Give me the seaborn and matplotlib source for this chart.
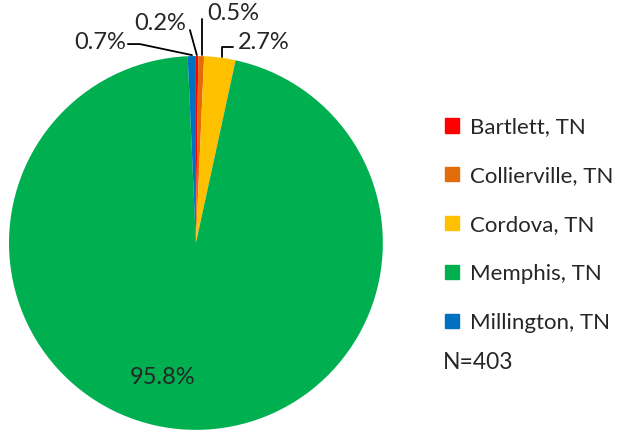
import matplotlib
matplotlib.use("Agg")
import matplotlib.pyplot as plt
import matplotlib.patches as mpatches
import seaborn as sns

cities = ["Bartlett, TN", "Collierville, TN", "Cordova, TN", "Memphis, TN", "Millington, TN"]
shares = [0.2, 0.5, 2.7, 95.8, 0.7]
colors = ["#FF0000", "#E36C0A", "#FFC000", "#00B050", "#0070C0"]
n_total = 403

sns.set_style("white")
plt.rcParams["font.family"] = ["Lato", "DejaVu Sans"]

fig = plt.figure(figsize=(6.21, 4.32), dpi=100)
ax = fig.add_axes([0.0145, 0.0046, 0.602, 0.866])

wedges, _ = ax.pie(shares, colors=colors, startangle=90, counterclock=False,
                   radius=1.0, wedgeprops=dict(linewidth=0))
ax.set_xlim(-1, 1)
ax.set_ylim(-1, 1)
ax.set_aspect("equal")
ax.axis("off")

# percentage labels (data coordinates, radius = 1)
fs = 17
ax.text(-0.18, -0.722, f"{shares[3]:.1f}%", fontsize=fs, ha="center", va="center")
ax.text(-0.372, 1.075, f"{shares[4]:.1f}%", fontsize=fs, ha="right", va="center")
ax.text(-0.05, 1.176, f"{shares[0]:.1f}%", fontsize=fs, ha="right", va="center")
ax.text(0.059, 1.23, f"{shares[1]:.1f}%", fontsize=fs, ha="left", va="center")
ax.text(0.225, 1.075, f"{shares[2]:.1f}%", fontsize=fs, ha="left", va="center")

lk = dict(color="black", lw=1.3, clip_on=False)
ax.plot([-0.364, -0.30, -0.021], [1.064, 1.064, 1.005], **lk)
ax.plot([-0.032, 0.005], [1.139, 1.005], **lk)
ax.plot([0.032, 0.032], [1.005, 1.198], **lk)
ax.plot([0.139, 0.139, 0.198], [0.995, 1.048, 1.048], **lk)

handles = [mpatches.Patch(color=c, label=l) for c, l in zip(colors, cities)]
fig.legend(handles=handles, loc="upper left", bbox_to_anchor=(0.7166, 0.729),
           frameon=False, fontsize=16, borderpad=0, borderaxespad=0,
           handlelength=0.63, handleheight=0.63,
           handletextpad=0.5, labelspacing=1.3)
fig.text(0.713, 0.16, f"N={n_total}", fontsize=16.5, ha="left", va="center")

fig.savefig("out.png", dpi=100)
